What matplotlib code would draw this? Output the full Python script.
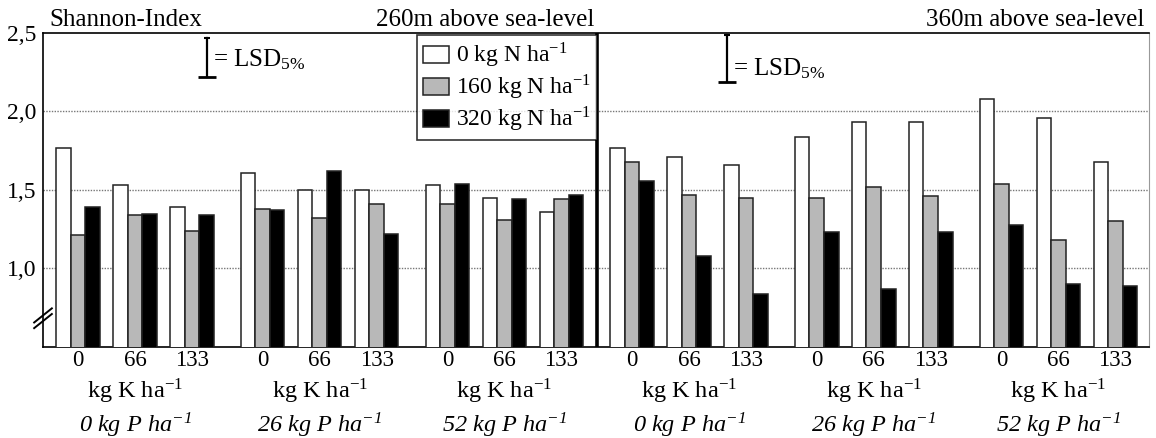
import numpy as np
import matplotlib
matplotlib.use('Agg')
import matplotlib.pyplot as plt
from matplotlib.patches import Patch

plt.rcParams['font.family'] = ['Liberation Serif', 'DejaVu Serif']
plt.rcParams['mathtext.fontset'] = 'stix'

# Shannon index (groups: P0 K0,K66,K133, P26 ..., P52 ...)
white_260 = [1.77, 1.53, 1.39, 1.61, 1.50, 1.50, 1.53, 1.45, 1.36]
gray_260 = [1.21, 1.34, 1.24, 1.38, 1.32, 1.41, 1.41, 1.31, 1.44]
black_260 = [1.39, 1.35, 1.34, 1.37, 1.62, 1.22, 1.54, 1.44, 1.47]
white_360 = [1.77, 1.71, 1.66, 1.84, 1.93, 1.93, 2.08, 1.96, 1.68]
gray_360 = [1.68, 1.47, 1.45, 1.45, 1.52, 1.46, 1.54, 1.18, 1.30]
black_360 = [1.56, 1.08, 0.84, 1.23, 0.87, 1.23, 1.28, 0.90, 0.89]

k_labels = ['0', '66', '133']
p_labels = ['0 kg P ha$^{\\mathregular{-1}}$', '26 kg P ha$^{\\mathregular{-1}}$', '52 kg P ha$^{\\mathregular{-1}}$']
n_labels = ['0 kg N ha$^{\\mathregular{-1}}$', '160 kg N ha$^{\\mathregular{-1}}$', '320 kg N ha$^{\\mathregular{-1}}$']
site_labels = ['260m above sea-level', '360m above sea-level']
lsd_260 = 0.25
lsd_360 = 0.30
yticks = [1.0, 1.5, 2.0, 2.5]
grid_levels = [1.0, 1.5, 2.0]

colors = ['white', '#b8b8b8', 'black']
w = 0.255
g_step = 3.24
h_step = 9.72

fig = plt.figure(figsize=(11.56, 4.38), dpi=100)
ax = fig.add_axes([0.0372, 0.2078, 0.9568, 0.717])

centers = []
for h in range(2):
    for g in range(3):
        for k in range(3):
            centers.append(h * h_step + g * g_step + (k - 1))
centers = np.array(centers)

series = [(white_260 + white_360), (gray_260 + gray_360), (black_260 + black_360)]
for i, vals in enumerate(series):
    ax.bar(centers + (i - 1) * w, vals, width=w, color=colors[i],
           edgecolor='#222222', linewidth=1.1, zorder=3)

for lv in grid_levels:
    ax.axhline(lv, color='#777777', lw=1.0, ls=(0, (1, 1)), zorder=1)

divider = 8.105
ax.axvline(divider, color='black', lw=2.6, zorder=4)

ax.set_xlim(-1.614, 17.79)
ax.set_ylim(0.5, 2.5)
ax.set_yticks(yticks)
ax.set_yticklabels([('%.1f' % t).replace('.', ',') for t in yticks], fontsize=17)
ax.set_xticks(centers)
ax.set_xticklabels(k_labels * 6, fontsize=16.5)
ax.tick_params(axis='both', length=0)
ax.tick_params(axis='x', pad=2)
ax.tick_params(axis='y', pad=5)

for s in ['left', 'bottom', 'top']:
    ax.spines[s].set_linewidth(1.2)
ax.spines['right'].set_color('#999999')

trans = ax.get_xaxis_transform()
for h in range(2):
    for g in range(3):
        gx = h * h_step + g * g_step
        ax.text(gx, -0.142, 'kg K ha$^{\\mathregular{-1}}$', transform=trans,
                ha='center', va='center', fontsize=17.5)
        ax.text(gx, -0.25, p_labels[g], transform=trans, ha='center',
                va='center', fontsize=17.5, style='italic')

ax.text(0.006, 1.005, 'Shannon-Index', transform=ax.transAxes, ha='left',
        va='bottom', fontsize=18)
ax.text(divider - 0.05, 1.005, site_labels[0], transform=trans, ha='right',
        va='bottom', fontsize=18)
ax.text(17.7, 1.005, site_labels[1], transform=trans, ha='right',
        va='bottom', fontsize=18)

# LSD markers
for x, top, lsd, ty in [(1.26, 2.47, lsd_260, 2.33), (10.39, 2.49, lsd_360, 2.27)]:
    ax.plot([x, x], [top, top - lsd], color='black', lw=1.6, zorder=5)
    ax.plot([x], [top - lsd], marker='_', ms=13, mew=2, color='black', zorder=5)
    ax.plot([x], [top], marker='_', ms=4, mew=1.5, color='black', zorder=5)
    ax.text(x + 0.1, ty, '= LSD$_{\\mathregular{5\\%}}$', ha='left', va='center', fontsize=18)

# axis break
for dy in [0.0, 0.018]:
    ax.plot([-0.008, 0.008], [0.06 + dy, 0.105 + dy], transform=ax.transAxes,
            color='black', lw=1.4, clip_on=False, zorder=6)

handles = [Patch(facecolor=c, edgecolor='#222222', linewidth=1.1) for c in colors]
leg = ax.legend(handles, n_labels, loc='upper right', bbox_to_anchor=(0.501, 0.994),
                borderaxespad=0, fontsize=17, frameon=True, fancybox=False,
                handlelength=1.1, handleheight=0.75, handletextpad=0.3,
                labelspacing=0.12, borderpad=0.25)
leg.get_frame().set_edgecolor('black')
leg.get_frame().set_linewidth(1.2)
leg.set_zorder(7)

fig.savefig('out.png', dpi=100)
